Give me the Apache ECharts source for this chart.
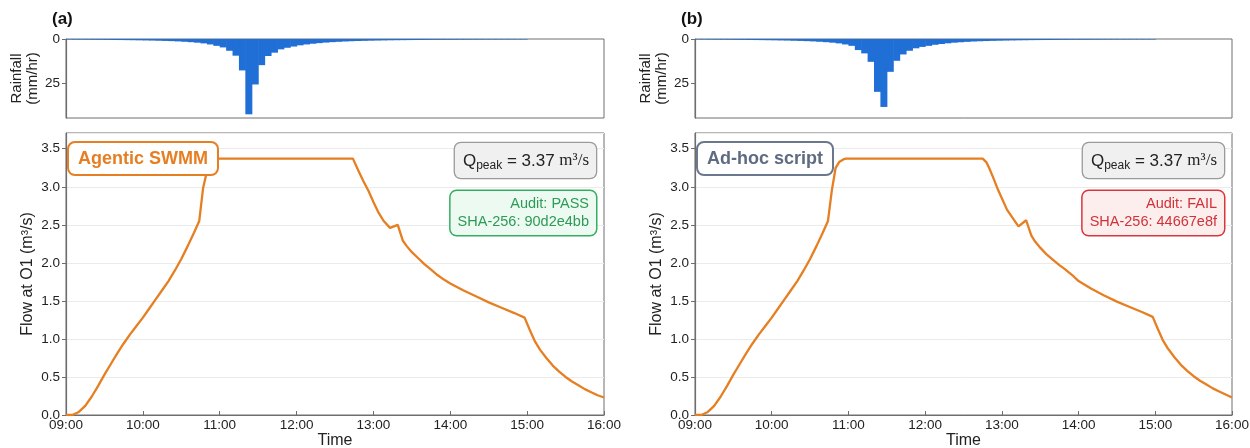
<!DOCTYPE html>
<html>
<head>
<meta charset="utf-8">
<script src="https://cdn.jsdelivr.net/npm/echarts@6/dist/echarts.min.js"></script>
<style>
html,body{margin:0;padding:0;background:#fff;}
#chart{width:1250px;height:448px;}
</style>
</head>
<body>
<div id="chart"></div>
<script>
// ---------------- data ----------------
const RAIN_STEP = 5; // minutes per rainfall bin, starting 09:00
const rainA = [0.35,0.37,0.4,0.42,0.45,0.48,0.52,0.56,0.6,0.65,0.7,0.76,0.83,0.9,1.0,1.1,1.22,1.38,1.58,1.82,2.1,2.5,3.1,3.9,4.8,6.7,9.5,17.9,42.9,25.9,14.9,9.7,7.8,5.9,5.0,4.3,3.6,3.1,2.7,2.35,2.05,1.8,1.6,1.42,1.27,1.15,1.05,0.96,0.88,0.81,0.75,0.7,0.66,0.62,0.59,0.56,0.53,0.5,0.48,0.46,0.44,0.42,0.4,0.39,0.37,0.36,0.35,0.34,0.33,0.32,0.31,0.3];
const rainB = [0.33,0.35,0.37,0.4,0.42,0.45,0.48,0.52,0.56,0.6,0.65,0.7,0.76,0.83,0.9,1.0,1.1,1.22,1.38,1.58,1.82,2.1,2.5,3.1,3.9,6.3,8.2,13.0,30.1,38.7,18.7,12.4,8.8,6.7,5.3,4.5,3.9,3.3,2.85,2.45,2.1,1.85,1.62,1.44,1.29,1.17,1.06,0.97,0.89,0.82,0.76,0.71,0.66,0.62,0.59,0.56,0.53,0.5,0.48,0.46,0.44,0.42,0.4,0.39,0.37,0.36,0.35,0.34,0.33,0.32,0.31,0.3];

// flow: minutes after 09:00 and flow (m3/s)
const flowTimeA = [0,5,10,15,20,25,30,35,40,45,50,55,60,65,70,75,80,85,90,95,100,104,107,110,113,115,224,228,232,236,240,244,248,253,259,263,266,270,275,280,285,290,295,300,310,320,330,340,350,358,362,366,370,375,380,385,390,395,400,405,410,415,420];
const flowA     = [0,0,0.04,0.12,0.24,0.38,0.53,0.67,0.81,0.94,1.06,1.17,1.28,1.40,1.52,1.64,1.76,1.90,2.05,2.22,2.40,2.55,2.98,3.20,3.34,3.37,3.37,3.22,3.08,2.95,2.80,2.66,2.55,2.46,2.50,2.29,2.22,2.14,2.06,1.98,1.91,1.84,1.78,1.73,1.64,1.56,1.48,1.41,1.34,1.28,1.12,0.97,0.86,0.75,0.65,0.57,0.50,0.44,0.39,0.34,0.30,0.26,0.23];
const flowTimeB = [0,5,10,15,20,25,30,35,40,45,50,55,60,65,70,75,80,85,90,95,100,104,107,110,113,116,118,225,228,230,233,237,240,244,248,253,259,263,266,270,275,280,285,289,295,300,310,320,330,340,350,358,362,366,370,375,380,385,390,395,400,405,410,415,420];
const flowB     = [0,0,0.04,0.12,0.24,0.38,0.53,0.67,0.81,0.94,1.06,1.17,1.28,1.40,1.52,1.64,1.76,1.90,2.05,2.22,2.40,2.55,2.95,3.25,3.33,3.36,3.37,3.37,3.32,3.25,3.13,2.96,2.85,2.70,2.60,2.48,2.56,2.36,2.28,2.20,2.11,2.04,1.97,1.92,1.84,1.76,1.66,1.57,1.49,1.42,1.35,1.29,1.13,0.98,0.87,0.76,0.66,0.58,0.51,0.45,0.40,0.35,0.31,0.27,0.23];

const startHour = 9;
const titles = ['(a)', '(b)'];
const methodLabels = ['Agentic SWMM', 'Ad-hoc script'];
const qPeakText = '3.37';
const auditLines = [['Audit: PASS', 'SHA-256: 90d2e4bb'], ['Audit: FAIL', 'SHA-256: 44667e8f']];

// ---------------- chart ----------------
const FONT = '"Liberation Sans", Arial, Helvetica, sans-serif';
const ORANGE = '#e67e22';
const BLUE = '#1f6fd6';
const AXIS = '#6e6e6e';

const chart = echarts.init(document.getElementById('chart'), null, {renderer: 'canvas'});

const panelLeft = [66, 695];
const panelWidth = [538, 537];
const grids = [];
const xAxes = [];
const yAxes = [];
const series = [];

function fmtTime(m) {
  const h = startHour + Math.floor(m / 60);
  const mm = m % 60;
  return (h < 10 ? '0' : '') + h + ':' + (mm < 10 ? '0' : '') + mm;
}

[0, 1].forEach(p => {
  const L = panelLeft[p];
  const W = panelWidth[p];
  grids.push({left: L, top: 39, width: W, height: 79, show: true, borderColor: AXIS, borderWidth: 1,
    backgroundColor: 'transparent', containLabel: false, outerBoundsMode: 'none'});
  grids.push({left: L, top: 133, width: W, height: 282, show: true, borderColor: AXIS, borderWidth: 1,
    backgroundColor: 'transparent', containLabel: false, outerBoundsMode: 'none'});
  const gRain = p * 2, gFlow = p * 2 + 1;
  xAxes.push({gridIndex: gRain, type: 'value', min: 0, max: 420, interval: 60,
    axisLine: {show: false}, axisTick: {show: false}, axisLabel: {show: false}, splitLine: {show: false}});
  xAxes.push({gridIndex: gFlow, type: 'value', min: 0, max: 420, interval: 60,
    name: 'Time', nameLocation: 'middle', nameGap: 18, nameMoveOverlap: false,
    nameTextStyle: {fontFamily: FONT, fontSize: 16, color: '#222', lineHeight: 16, verticalAlign: 'top'},
    axisLine: {show: true, lineStyle: {color: AXIS, width: 1.2}},
    axisTick: {show: true, inside: true, length: 4, lineStyle: {color: AXIS}},
    axisLabel: {fontFamily: FONT, fontSize: 13.5, color: '#222', margin: 3, formatter: v => fmtTime(v)},
    splitLine: {show: false}});
  yAxes.push({gridIndex: gRain, type: 'value', min: 0, max: 45, interval: 25, inverse: true,
    name: 'Rainfall\n(mm/hr)', nameLocation: 'middle', nameGap: 22, nameRotate: 90,
    nameTextStyle: {fontFamily: FONT, fontSize: 15, color: '#222', lineHeight: 16},
    axisLine: {show: true, lineStyle: {color: AXIS, width: 1.2}},
    axisTick: {show: true, length: 4, lineStyle: {color: AXIS}},
    axisLabel: {fontFamily: FONT, fontSize: 13.5, color: '#222', margin: 6, showMaxLabel: false},
    splitLine: {show: false}});
  yAxes.push({gridIndex: gFlow, type: 'value', min: 0, max: 3.707, interval: 0.5,
    name: 'Flow at O1 (m³/s)', nameLocation: 'middle', nameGap: 30, nameRotate: 90,
    nameTextStyle: {fontFamily: FONT, fontSize: 16, color: '#222'},
    axisLine: {show: true, lineStyle: {color: AXIS, width: 1.2}},
    axisTick: {show: true, length: 4, lineStyle: {color: AXIS}},
    axisLabel: {fontFamily: FONT, fontSize: 13.5, color: '#222', margin: 6, showMaxLabel: false,
      formatter: v => v.toFixed(1)},
    splitLine: {show: true, lineStyle: {color: '#ebebeb', width: 1}}});

  const rain = p === 0 ? rainA : rainB;
  series.push({
    type: 'custom', xAxisIndex: gRain, yAxisIndex: gRain,
    data: rain.map((v, i) => [i * RAIN_STEP, v]),
    renderItem: (params, api) => {
      const t0 = api.value(0), v = api.value(1);
      const a = api.coord([t0, 0]);
      const b = api.coord([t0 + RAIN_STEP, v]);
      return {type: 'rect',
        shape: {x: a[0], y: Math.min(a[1], b[1]), width: b[0] - a[0] + 0.6, height: Math.abs(b[1] - a[1])},
        style: {fill: BLUE}};
    },
    silent: true, animation: false, z: 2
  });
  const ft = p === 0 ? flowTimeA : flowTimeB;
  const fv = p === 0 ? flowA : flowB;
  series.push({
    type: 'line', xAxisIndex: gFlow, yAxisIndex: gFlow,
    data: ft.map((t, i) => [t, fv[i]]),
    showSymbol: false, symbol: 'none', smooth: false,
    lineStyle: {color: ORANGE, width: 2.3},
    silent: true, animation: false, z: 3
  });
});

const methodStyles = [
  {color: ORANGE, border: ORANGE},
  {color: '#5f6b80', border: '#6b778c'}
];
const auditStyles = [
  {color: '#2e9a57', border: '#35ad62', bg: '#ecfaf1'},
  {color: '#d0323a', border: '#d9363e', bg: '#fdeeee'}
];

const graphics = [];
[0, 1].forEach(p => {
  const L = panelLeft[p];
  const R = L + panelWidth[p];
  graphics.push({type: 'text', x: L - 14, y: 11, z: 10,
    style: {text: titles[p], fontFamily: FONT, fontWeight: 'bold', fontSize: 17, fill: '#111'}});
  graphics.push({type: 'text', x: L + 3, y: 143, z: 10,
    style: {text: methodLabels[p], fontFamily: FONT, fontWeight: 'bold', fontSize: 18,
      fill: methodStyles[p].color, backgroundColor: '#fff', borderColor: methodStyles[p].border,
      borderWidth: 2, borderRadius: 6, padding: [7, 9, 6, 9]}});
  graphics.push({type: 'text', x: R - 8, y: 143, z: 10,
    style: {
      text: '{q|Q}{s|peak}{q| = ' + qPeakText + ' }{m|m³/s}',
      align: 'right', verticalAlign: 'top',
      backgroundColor: '#f0f0f0', borderColor: '#9a9a9a', borderWidth: 1.3, borderRadius: 6,
      padding: [7, 7, 6, 8],
      rich: {
        q: {fontFamily: FONT, fontSize: 17, fill: '#222', lineHeight: 22, verticalAlign: 'middle'},
        s: {fontFamily: FONT, fontSize: 12, fill: '#222', lineHeight: 12, verticalAlign: 'bottom'},
        m: {fontFamily: '"Liberation Serif", "DejaVu Serif", serif', fontSize: 17, fill: '#222', lineHeight: 22, verticalAlign: 'middle'}
      }
    }});
  graphics.push({type: 'text', x: R - 8, y: 191, z: 10,
    style: {
      text: auditLines[p].join('\n'), align: 'right', verticalAlign: 'top',
      fontFamily: FONT, fontSize: 14.5, lineHeight: 18, fill: auditStyles[p].color,
      backgroundColor: auditStyles[p].bg, borderColor: auditStyles[p].border, borderWidth: 1.5, borderRadius: 6,
      padding: [4, 7, 4, 7]
    }});
});

chart.setOption({
  animation: false,
  backgroundColor: '#fff',
  grid: grids,
  xAxis: xAxes,
  yAxis: yAxes,
  series: series,
  graphic: graphics
});
</script>
</body>
</html>
